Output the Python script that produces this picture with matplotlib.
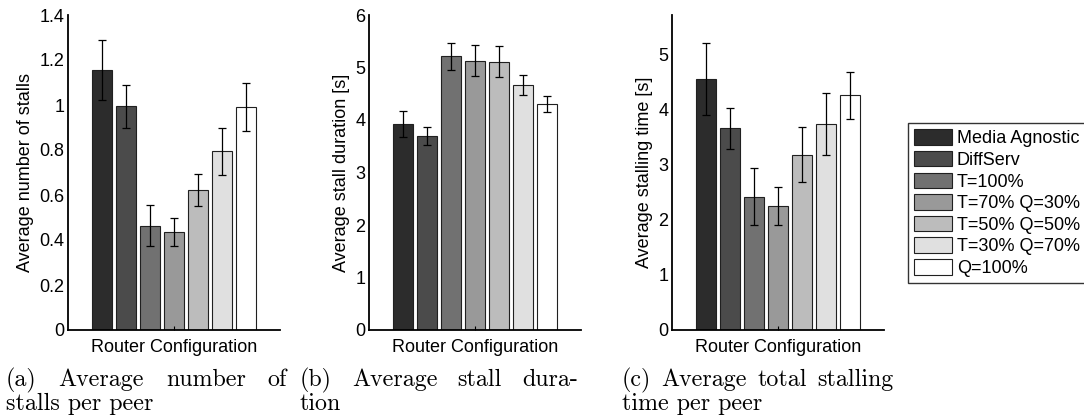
import matplotlib
matplotlib.use("Agg")
import matplotlib.pyplot as plt
from matplotlib.patches import Patch
import numpy as np

configs = ["Media Agnostic", "DiffServ", "T=100%", "T=70% Q=30%",
           "T=50% Q=50%", "T=30% Q=70%", "Q=100%"]
greys = ["#2c2c2c", "#4b4b4b", "#717171", "#999999", "#bcbcbc", "#e0e0e0", "#ffffff"]

stalls = [1.156, 0.995, 0.464, 0.436, 0.621, 0.794, 0.991]
stalls_err = [0.134, 0.095, 0.090, 0.064, 0.072, 0.104, 0.106]

duration = [3.93, 3.70, 5.21, 5.13, 5.11, 4.66, 4.31]
duration_err = [0.25, 0.17, 0.26, 0.30, 0.30, 0.19, 0.15]

total = [4.56, 3.66, 2.42, 2.25, 3.18, 3.74, 4.26]
total_err = [0.65, 0.37, 0.52, 0.34, 0.50, 0.57, 0.43]

ylabels = ["Average number of stalls", "Average stall duration [s]",
           "Average stalling time [s]"]
yticks = [[0, 0.2, 0.4, 0.6, 0.8, 1, 1.2, 1.4], [0, 1, 2, 3, 4, 5, 6],
          [0, 1, 2, 3, 4, 5]]
ytick_labels = [["0", "0.2", "0.4", "0.6", "0.8", "1", "1.2", "1.4"],
                ["0", "1", "2", "3", "4", "5", "6"],
                ["0", "1", "2", "3", "4", "5"]]
ylims = [1.4, 6.0, 5.72]

captions = [
    ("(a) Average number of", "stalls per peer"),
    ("(b) Average stall dura-", "tion"),
    ("(c) Average total stalling", "time per peer"),
]

plt.rcParams["font.family"] = ["Liberation Sans", "DejaVu Sans"]

W, H = 1084, 418
fig = plt.figure(figsize=(W / 100, H / 100), dpi=100)

lefts = [68, 369, 672]
ax_w, ax_top, ax_bot = 212, 15, 330
x = np.arange(1, 8)
series = [(stalls, stalls_err), (duration, duration_err), (total, total_err)]

for i, (vals, errs) in enumerate(series):
    ax = fig.add_axes([lefts[i] / W, (H - ax_bot) / H, ax_w / W, (ax_bot - ax_top) / H])
    ax.bar(x, vals, width=0.83, color=greys, edgecolor="#202020", linewidth=0.8)
    ax.errorbar(x, vals, yerr=errs, fmt="none", ecolor="black", elinewidth=0.9,
                capsize=3, capthick=0.9)
    half = ax_w / 24 / 2
    ax.set_xlim(4 - half, 4 + half)
    ax.set_ylim(0, ylims[i])
    ax.set_xticks([4])
    ax.set_xticklabels([""])
    ax.set_yticks(yticks[i])
    ax.set_yticklabels(ytick_labels[i], fontsize=13)
    ax.tick_params(axis="y", length=0, pad=2.5)
    ax.tick_params(axis="x", direction="in", length=3, width=0.8)
    ax.spines["top"].set_visible(False)
    ax.spines["right"].set_visible(False)
    ax.spines["left"].set_linewidth(1.3)
    ax.spines["bottom"].set_linewidth(1.3)
    ax.set_xlabel("Router Configuration", fontsize=13, labelpad=3)
    ax.set_ylabel(ylabels[i], fontsize=13, labelpad=4)

# legend at right, clipped by the figure edge
handles = [Patch(facecolor=c, edgecolor="#202020", linewidth=0.8) for c in greys]
leg = fig.legend(handles, configs, loc="upper left",
                 bbox_to_anchor=(908 / W, 1 - 123 / H), fontsize=13,
                 frameon=True, fancybox=False, edgecolor="black",
                 handlelength=2.1, handleheight=0.95, handletextpad=0.25,
                 labelspacing=0.2, borderpad=0.35, borderaxespad=0)
leg.get_frame().set_linewidth(1.0)

# justified sub-captions in a serif face
fig.canvas.draw()
renderer = fig.canvas.get_renderer()
cap_spans = [(6, 287), (300, 578), (622, 893)]
cap_font = dict(family="cmr10", fontsize=17.3)
for (line1, line2), (x0, x1) in zip(captions, cap_spans):
    words = line1.split(" ")
    widths = []
    for w in words:
        t = fig.text(0, 0, w, **cap_font)
        widths.append(t.get_window_extent(renderer).width)
        t.remove()
    gap = (x1 - x0 - sum(widths)) / (len(words) - 1)
    pos = x0
    for w, wd in zip(words, widths):
        fig.text(pos / W, 1 - 386 / H, w, va="baseline", **cap_font)
        pos += wd + gap
    fig.text(x0 / W, 1 - 410 / H, line2, va="baseline", **cap_font)

fig.savefig("out.png", dpi=100)
